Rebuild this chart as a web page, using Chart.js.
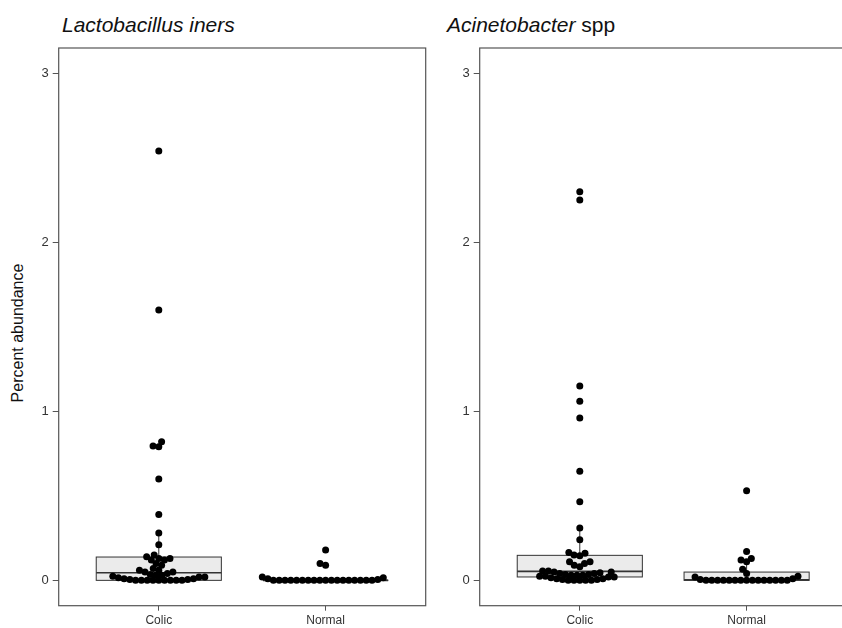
<!DOCTYPE html>
<html>
<head>
<meta charset="utf-8">
<script src="https://cdn.jsdelivr.net/npm/chart.js@4"></script>
<style>
  body { margin: 0; background: #fff; overflow: hidden; }
  #wrap { position: relative; width: 842px; height: 628px; overflow: hidden; font-family: "Liberation Sans", Arial, sans-serif; }
  .title { position: absolute; top: 13px; font-size: 21px; line-height: 24px; color: #111; white-space: nowrap; }
  .ylab { position: absolute; left: 18px; top: 333px; transform: translate(-50%, -50%) rotate(-90deg); font-size: 16px; color: #111; white-space: nowrap; }
  .panel { position: absolute; top: 0; width: 430px; height: 628px; }
</style>
</head>
<body>
<div id="wrap">
  <div class="title" style="left:62px"><i>Lactobacillus iners</i></div>
  <div class="title" style="left:447px"><i>Acinetobacter</i> spp</div>
  <div class="ylab">Percent abundance</div>
  <div class="panel" style="left:0px"><canvas id="lacto" width="430" height="628"></canvas></div>
  <div class="panel" style="left:421.3px"><canvas id="acineto" width="430" height="628"></canvas></div>
</div>
<script>
// categories and y ticks
const categories = ["Colic", "Normal"];
const yTicks = [0, 1, 2, 3];

// Lactobacillus iners, percent abundance per horse
const lactoColic = [2.54, 1.60, 0.82, 0.795, 0.79, 0.60, 0.39, 0.28, 0.21, 0.15, 0.14, 0.13, 0.13, 0.12, 0.12,
    0.10, 0.09, 0.07, 0.06, 0.06, 0.05, 0.05, 0.04, 0.035, 0.03, 0.03, 0.025, 0.02, 0.02, 0.015, 0.01, 0.01,
    0.005, 0.005, 0, 0, 0, 0, 0, 0, 0, 0, 0];
const lactoNormal = [0.18, 0.10, 0.09, 0.02, 0.015, 0.01, 0.005,
    0, 0, 0, 0, 0, 0, 0, 0, 0, 0, 0, 0, 0, 0, 0, 0, 0, 0];

// Acinetobacter spp
const acinetoColic = [2.30, 2.25, 1.15, 1.06, 0.96, 0.645, 0.465, 0.31, 0.24, 0.165, 0.16, 0.15, 0.145, 0.11,
    0.11, 0.10, 0.09, 0.08, 0.055, 0.055, 0.05, 0.05, 0.045, 0.04, 0.04, 0.035, 0.035, 0.03, 0.03, 0.03,
    0.025, 0.025, 0.02, 0.02, 0.015, 0.01, 0.01, 0.005, 0.005, 0, 0, 0, 0, 0];
const acinetoNormal = [0.53, 0.17, 0.13, 0.12, 0.11, 0.065, 0.04, 0.025, 0.02, 0.01, 0.005,
    0, 0, 0, 0, 0, 0, 0, 0, 0, 0, 0, 0, 0, 0, 0];

// box stats (Colic, Normal)
const lactoQ1 = [0, 0];
const lactoMedian = [0.045, 0];
const lactoQ3 = [0.138, 0];
const acinetoQ1 = [0.02, 0];
const acinetoMedian = [0.053, 0.003];
const acinetoQ3 = [0.148, 0.049];

const BOX_HALF = 0.375;
const DOT_R = 3.5;
const DOT_GAP = 5.8;

// simple swarm layout: place each point (ascending) as close to the centre as it can go
function swarmOffsets(values, pxX, pxY, d) {
    const order = values.map((v, i) => i).sort((a, b) => values[a] - values[b]);
    const placed = [];
    const out = new Array(values.length).fill(0);
    for (const i of order) {
        const y = values[i] * pxY;
        const cands = [0];
        for (const p of placed) {
            const dy = Math.abs(p.y - y);
            if (dy < d) {
                const dx = Math.sqrt(d * d - dy * dy);
                cands.push(p.x + dx, p.x - dx);
            }
        }
        cands.sort((a, b) => Math.abs(a) - Math.abs(b) || a - b);
        let best = 0;
        for (const c of cands) {
            if (placed.every(p => (p.x - c) ** 2 + (p.y - y) ** 2 >= d * d - 0.01)) { best = c; break; }
        }
        placed.push({x: best, y: y});
        out[i] = best / pxX;
    }
    return out;
}

function whiskers(values, q1, q3) {
    const iqr = q3 - q1;
    const inside = values.filter(v => v >= q1 - 1.5 * iqr && v <= q3 + 1.5 * iqr);
    return [Math.min(...inside), Math.max(...inside)];
}

const boxPlugin = {
    id: 'boxes',
    beforeDatasetsDraw(chart, args, opts) {
        const {ctx, chartArea, scales: {x, y}} = chart;
        ctx.save();
        opts.groups.forEach((g, c) => {
            const [wLo, wHi] = whiskers(g.values, g.q1, g.q3);
            const xc = x.getPixelForValue(c);
            ctx.strokeStyle = '#333';
            ctx.lineWidth = 1;
            // whiskers
            ctx.beginPath();
            ctx.moveTo(xc, y.getPixelForValue(g.q3));
            ctx.lineTo(xc, y.getPixelForValue(wHi));
            ctx.moveTo(xc, y.getPixelForValue(g.q1));
            ctx.lineTo(xc, y.getPixelForValue(wLo));
            ctx.stroke();
            const x0 = x.getPixelForValue(c - BOX_HALF), x1 = x.getPixelForValue(c + BOX_HALF);
            const yTop = y.getPixelForValue(g.q3), yBot = y.getPixelForValue(g.q1);
            ctx.fillStyle = '#ebebeb';
            ctx.fillRect(x0, yTop, x1 - x0, yBot - yTop);
            ctx.strokeRect(x0, yTop, x1 - x0, yBot - yTop);
            ctx.lineWidth = 1.6;
            ctx.beginPath();
            ctx.moveTo(x0, y.getPixelForValue(g.median));
            ctx.lineTo(x1, y.getPixelForValue(g.median));
            ctx.stroke();
        });
        // panel frame
        ctx.strokeStyle = '#555';
        ctx.lineWidth = 1.2;
        ctx.strokeRect(chartArea.left, chartArea.top, chartArea.right - chartArea.left, chartArea.bottom - chartArea.top);
        ctx.restore();
    }
};

function makePanel(id, colic, normal, q1, med, q3) {
    const groups = [
        {values: colic, q1: q1[0], median: med[0], q3: q3[0]},
        {values: normal, q1: q1[1], median: med[1], q3: q3[1]}
    ];
    const tickFont = {family: "'Liberation Sans', Arial, sans-serif", size: 13};
    const chart = new Chart(document.getElementById(id), {
        type: 'scatter',
        data: {
            datasets: groups.map((g, c) => ({
                data: g.values.map(v => ({x: c, y: v})),
                backgroundColor: '#000',
                borderColor: '#000',
                pointRadius: DOT_R,
                pointBorderWidth: 0
            }))
        },
        options: {
            responsive: false,
            animation: false,
            layout: {padding: {top: 48, right: 4.3, left: 0, bottom: 0}},
            plugins: {legend: {display: false}, tooltip: {enabled: false}, boxes: {groups: groups}},
            scales: {
                x: {
                    type: 'linear', min: -0.6, max: 1.6,
                    afterBuildTicks: s => { s.ticks = categories.map((c, i) => ({value: i})); },
                    afterFit: s => { s.height = 22.3; },
                    ticks: {callback: v => categories[v], font: {...tickFont, size: 12}, color: '#333', padding: 3, maxRotation: 0, autoSkip: false},
                    grid: {drawOnChartArea: false, tickLength: 5, color: '#555'},
                    border: {display: false}
                },
                y: {
                    min: -0.15, max: 3.15,
                    afterBuildTicks: s => { s.ticks = yTicks.map(v => ({value: v})); },
                    afterFit: s => { s.width = 58.7; },
                    ticks: {font: tickFont, color: '#333', padding: 4},
                    grid: {drawOnChartArea: false, tickLength: 6, color: '#555'},
                    border: {display: false}
                }
            }
        },
        plugins: [boxPlugin]
    });

    // swarm the dots now the scales know their pixel sizes
    const pxX = chart.scales.x.getPixelForValue(1) - chart.scales.x.getPixelForValue(0);
    const pxY = chart.scales.y.getPixelForValue(0) - chart.scales.y.getPixelForValue(1);
    groups.forEach((g, c) => {
        const offs = swarmOffsets(g.values, pxX, pxY, DOT_GAP);
        chart.data.datasets[c].data = g.values.map((v, i) => ({x: c + offs[i], y: v}));
    });
    chart.update('none');
    return chart;
}

makePanel('lacto', lactoColic, lactoNormal, lactoQ1, lactoMedian, lactoQ3);
makePanel('acineto', acinetoColic, acinetoNormal, acinetoQ1, acinetoMedian, acinetoQ3);
</script>
</body>
</html>
